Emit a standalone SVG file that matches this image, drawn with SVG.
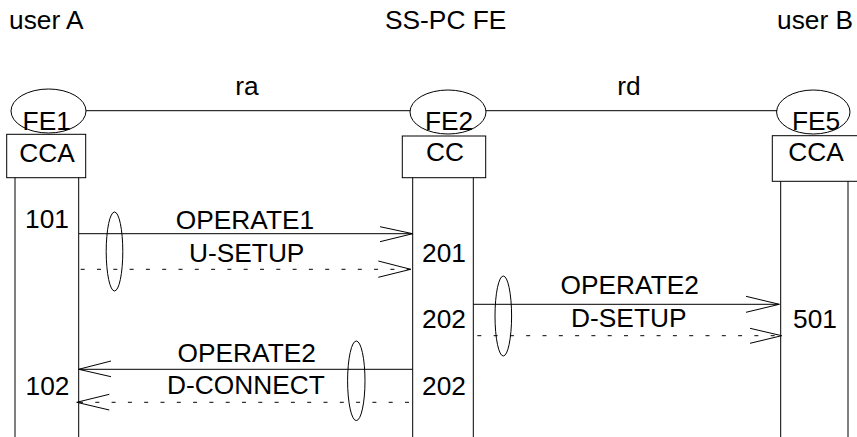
<svg xmlns="http://www.w3.org/2000/svg" width="857" height="437" viewBox="0 0 857 437">
<style>
text{font-family:"Liberation Sans",Arial,sans-serif;font-size:26.3px;fill:#000}
.c{text-anchor:middle}
.ln{stroke:#000;stroke-width:1;fill:none}
.ds{stroke:#000;stroke-width:1;fill:none;stroke-dasharray:4 12.3}
.ah{stroke:#000;stroke-width:1;fill:none}
</style>
<rect width="857" height="437" fill="#fff"/>
<g id="headers">
<text x="9" y="29">user A</text>
<text x="385" y="29">SS-PC FE</text>
<text x="777" y="29">user B</text>
</g>
<g id="relations">
<line class="ln" x1="86" y1="110.7" x2="410" y2="110.7"/>
<line class="ln" x1="486" y1="110.7" x2="777" y2="110.7"/>
<text class="c" x="247" y="95">ra</text>
<text class="c" x="629" y="95">rd</text>
</g>
<g id="FE1">
<ellipse class="ln" cx="48.5" cy="111" rx="37.5" ry="22"/>
<text class="c" x="46.7" y="130">FE1</text>
<rect class="ln" x="6.7" y="134.3" width="79" height="43.4"/>
<text class="c" x="47" y="161.5">CCA</text>
<line class="ln" x1="15" y1="177.7" x2="15" y2="437"/>
<line class="ln" x1="78.7" y1="177.7" x2="78.7" y2="437"/>
<text class="c" x="47" y="228">101</text>
<text class="c" x="47.5" y="395">102</text>
</g>
<g id="FE2">
<ellipse class="ln" cx="448" cy="112" rx="38" ry="22"/>
<text class="c" x="449" y="130">FE2</text>
<rect class="ln" x="402.3" y="136" width="83.4" height="41.7"/>
<text class="c" x="445" y="161">CC</text>
<line class="ln" x1="412.7" y1="177.7" x2="412.7" y2="437"/>
<line class="ln" x1="473.3" y1="177.7" x2="473.3" y2="437"/>
<text class="c" x="444" y="261.7">201</text>
<text class="c" x="444" y="328.3">202</text>
<text class="c" x="444" y="395">202</text>
</g>
<g id="FE5">
<ellipse class="ln" cx="813.3" cy="112" rx="36.7" ry="22"/>
<text class="c" x="816" y="130">FE5</text>
<rect class="ln" x="772.3" y="135.7" width="90" height="45.6"/>
<text class="c" x="816" y="161">CCA</text>
<line class="ln" x1="780.7" y1="181.3" x2="780.7" y2="437"/>
<line class="ln" x1="848" y1="181.3" x2="848" y2="437"/>
<text class="c" x="815" y="328.3">501</text>
</g>
<g id="connectors">
<line class="ln" x1="79" y1="233.7" x2="412.7" y2="233.7"/>
<polyline class="ah" points="380,226.7 412.7,233.7 380,241.7"/>
<line class="ds" x1="80.7" y1="269.3" x2="411" y2="269.3"/>
<polyline class="ah" points="378.3,261 410.7,269.3 378.3,277.3"/>
<ellipse class="ln" cx="114.5" cy="251.5" rx="8.3" ry="39.5"/>
<text class="c" x="245" y="229">OPERATE1</text>
<text class="c" x="246.7" y="261.7">U-SETUP</text>

<line class="ln" x1="473.3" y1="304.3" x2="779.3" y2="304.3"/>
<polyline class="ah" points="746,296.3 779.3,304.3 746,312.3"/>
<line class="ds" x1="477.3" y1="335.7" x2="781.7" y2="335.7"/>
<polyline class="ah" points="750,328.3 781.7,335.7 750,343.3"/>
<ellipse class="ln" cx="503.3" cy="316" rx="8.3" ry="40"/>
<text class="c" x="629.7" y="294.3">OPERATE2</text>
<text class="c" x="628.8" y="326.7">D-SETUP</text>

<line class="ln" x1="412.7" y1="369.3" x2="78.7" y2="369.3"/>
<polyline class="ah" points="111,361 78.7,369.3 111,376.7"/>
<line class="ds" x1="409" y1="402.3" x2="77" y2="402.3"/>
<polyline class="ah" points="109.3,394.3 76.7,402.3 109.3,410"/>
<ellipse class="ln" cx="356.3" cy="380.8" rx="8.7" ry="39.8"/>
<text class="c" x="246.7" y="361.7">OPERATE2</text>
<text class="c" x="246" y="394.3">D-CONNECT</text>
</g>
</svg>
